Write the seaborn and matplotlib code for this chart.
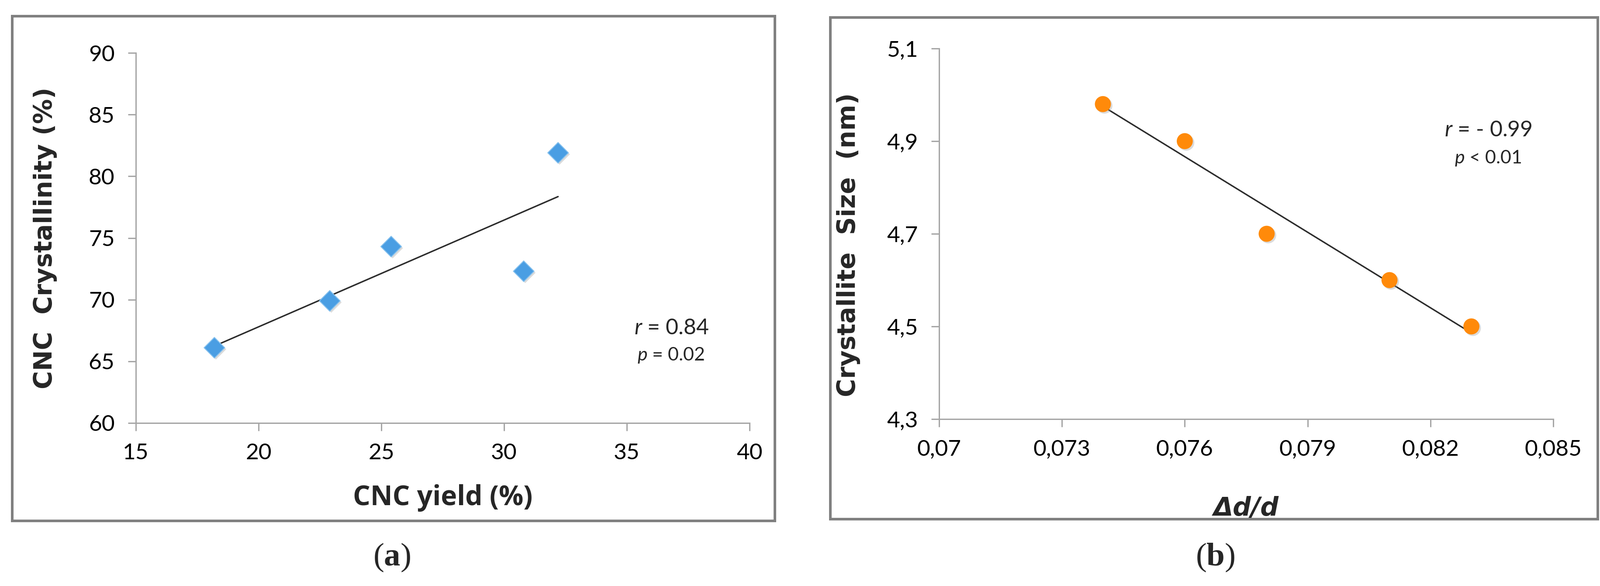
import numpy as np
import pandas as pd
import matplotlib
matplotlib.use("Agg")
import matplotlib.pyplot as plt
import seaborn as sns
from matplotlib.patches import Rectangle
from matplotlib import font_manager
import matplotlib.patheffects as pe

# ---------------- data ----------------
cnc_yield = [18.2, 22.9, 25.4, 30.8, 32.2]
cnc_crystallinity = [66.1, 69.9, 74.3, 72.3, 81.9]

delta_d_over_d = [0.074, 0.076, 0.078, 0.081, 0.083]
crystallite_size = [4.98, 4.90, 4.70, 4.60, 4.50]

a_xticks = [15, 20, 25, 30, 35, 40]
a_yticks = [60, 65, 70, 75, 80, 85, 90]
b_xticks = [0.070, 0.073, 0.076, 0.079, 0.082, 0.085]
b_xticklabels = ["0,07", "0,073", "0,076", "0,079", "0,082", "0,085"]
b_yticks = [4.3, 4.5, 4.7, 4.9, 5.1]
b_yticklabels = ["4,3", "4,5", "4,7", "4,9", "5,1"]

df_a = pd.DataFrame({"yield": cnc_yield, "cryst": cnc_crystallinity})
df_b = pd.DataFrame({"dd": delta_d_over_d, "size": crystallite_size})

# ---------------- style ----------------
sns.set_theme(style="white")
plt.rcParams["font.family"] = ["Lato", "DejaVu Sans"]
plt.rcParams["mathtext.fontset"] = "custom"
plt.rcParams["mathtext.rm"] = "Lato"
plt.rcParams["mathtext.it"] = "Lato:italic"
plt.rcParams["mathtext.bf"] = "Liberation Serif:bold"


def has_font(name):
    try:
        font_manager.findfont(font_manager.FontProperties(family=name),
                              fallback_to_default=False)
        return True
    except Exception:
        return False


if has_font("Liberation Sans Narrow"):
    tick_family = ["Liberation Sans Narrow", "DejaVu Sans"]
    tick_size = 38
else:
    tick_family = ["Lato", "DejaVu Sans"]
    tick_size = 37

W, H = 3663, 1341
fig = plt.figure(figsize=(W / 100, H / 100), dpi=100)
fig.patch.set_facecolor("white")


def fx(px):
    return px / W


def fy(py):
    return 1 - py / H


axis_gray = "#A6A6A6"
label_pt = 41
shadow = [pe.SimplePatchShadow(offset=(2.5, -2.5), shadow_rgbFace="#9a9a9a", alpha=0.35),
          pe.Normal()]


def style_axes(ax):
    for s in ["top", "right"]:
        ax.spines[s].set_visible(False)
    for s in ["left", "bottom"]:
        ax.spines[s].set_color(axis_gray)
        ax.spines[s].set_linewidth(2.2)
    ax.tick_params(axis="both", which="major", direction="out", length=13,
                   width=2.2, color=axis_gray, labelsize=tick_size,
                   labelcolor="black", bottom=True, left=True)
    ax.tick_params(axis="x", pad=20)
    ax.tick_params(axis="y", pad=22)
    for lab in ax.get_xticklabels() + ax.get_yticklabels():
        lab.set_family(tick_family)
    ax.set_facecolor("white")
    ax.grid(False)


# ---------------- panel (a) ----------------
ax1 = fig.add_axes([fx(311), fy(968), fx(1716) - fx(311), fy(121) - fy(968)])
sns.regplot(data=df_a, x="yield", y="cryst", ax=ax1, ci=None, scatter=False,
            truncate=True, line_kws=dict(color="#2b2b2b", lw=2.4, zorder=2))
sns.scatterplot(data=df_a, x="yield", y="cryst", ax=ax1, marker="D", s=580,
                color="#4A9EE3", edgecolor="#86C1EE", linewidth=1.5, zorder=3)
ax1.collections[-1].set_path_effects(shadow)
ax1.set_xlim(15, 40)
ax1.set_ylim(60, 90)
ax1.set_xticks(a_xticks)
ax1.set_yticks(a_yticks)
ax1.set_xticklabels([str(v) for v in a_xticks])
ax1.set_yticklabels([str(v) for v in a_yticks])
style_axes(ax1)
ax1.set_xlabel("CNC yield (%)", fontsize=45, fontweight="bold",
               family=["Open Sans", "DejaVu Sans"])
ax1.set_ylabel("CNC  Crystallinity (%)", fontsize=label_pt, fontweight="bold",
               family=["DejaVu Sans"])
ax1.xaxis.set_label_coords(0.5, -0.165)
ax1.yaxis.set_label_coords(-0.128, 0.5)
ax1.text(36.83, 67.7, r"$\it{r}$ = 0.84", fontsize=36, ha="center", va="center")
ax1.text(36.8, 65.5, r"$\it{p}$ = 0.02", fontsize=31, ha="center", va="center")

# ---------------- panel (b) ----------------
ax2 = fig.add_axes([fx(2150), fy(959), fx(3556) - fx(2150), fy(111) - fy(959)])
sns.regplot(data=df_b, x="dd", y="size", ax=ax2, ci=None, scatter=False,
            truncate=True, line_kws=dict(color="#2b2b2b", lw=2.4, zorder=2))
sns.scatterplot(data=df_b, x="dd", y="size", ax=ax2, marker="o", s=700,
                color="#FF8A0A", edgecolor="none", linewidth=0, zorder=3)
ax2.collections[-1].set_path_effects(shadow)
ax2.set_xlim(0.070, 0.085)
ax2.set_ylim(4.3, 5.1)
ax2.set_xticks(b_xticks)
ax2.set_yticks(b_yticks)
ax2.set_xticklabels(b_xticklabels)
ax2.set_yticklabels(b_yticklabels)
style_axes(ax2)
ax2.set_xlabel("Δd/d", fontsize=42, fontweight="bold", fontstyle="italic",
               family=["DejaVu Sans"])
ax2.set_ylabel("Crystallite  Size  (nm)", fontsize=label_pt, fontweight="bold",
               family=["DejaVu Sans"])
ax2.xaxis.set_label_coords(0.5, -0.208)
ax2.yaxis.set_label_coords(-0.128, 0.47)
ax2.text(0.08341, 4.924, r"$\it{r}$ = - 0.99", fontsize=36, ha="center", va="center")
ax2.text(0.08341, 4.863, r"$\it{p}$ < 0.01", fontsize=31, ha="center", va="center")

# ---------------- frames ----------------
frame_kw = dict(fill=False, edgecolor="#808080", linewidth=4.3,
                transform=fig.transFigure, figure=fig)
fig.patches.append(Rectangle((fx(28), fy(1192)), fx(1774) - fx(28),
                             fy(37) - fy(1192), **frame_kw))
fig.patches.append(Rectangle((fx(1901), fy(1188)), fx(3658) - fx(1901),
                             fy(40) - fy(1188), **frame_kw))

# ---------------- captions ----------------
fig.text(fx(897), fy(1276), r"($\mathbf{a}$)", fontsize=54,
         family=["Liberation Serif"], ha="center", va="center")
fig.text(fx(2782), fy(1276), r"($\mathbf{b}$)", fontsize=54,
         family=["Liberation Serif"], ha="center", va="center")

fig.savefig("out.png", dpi=100, facecolor="white")
